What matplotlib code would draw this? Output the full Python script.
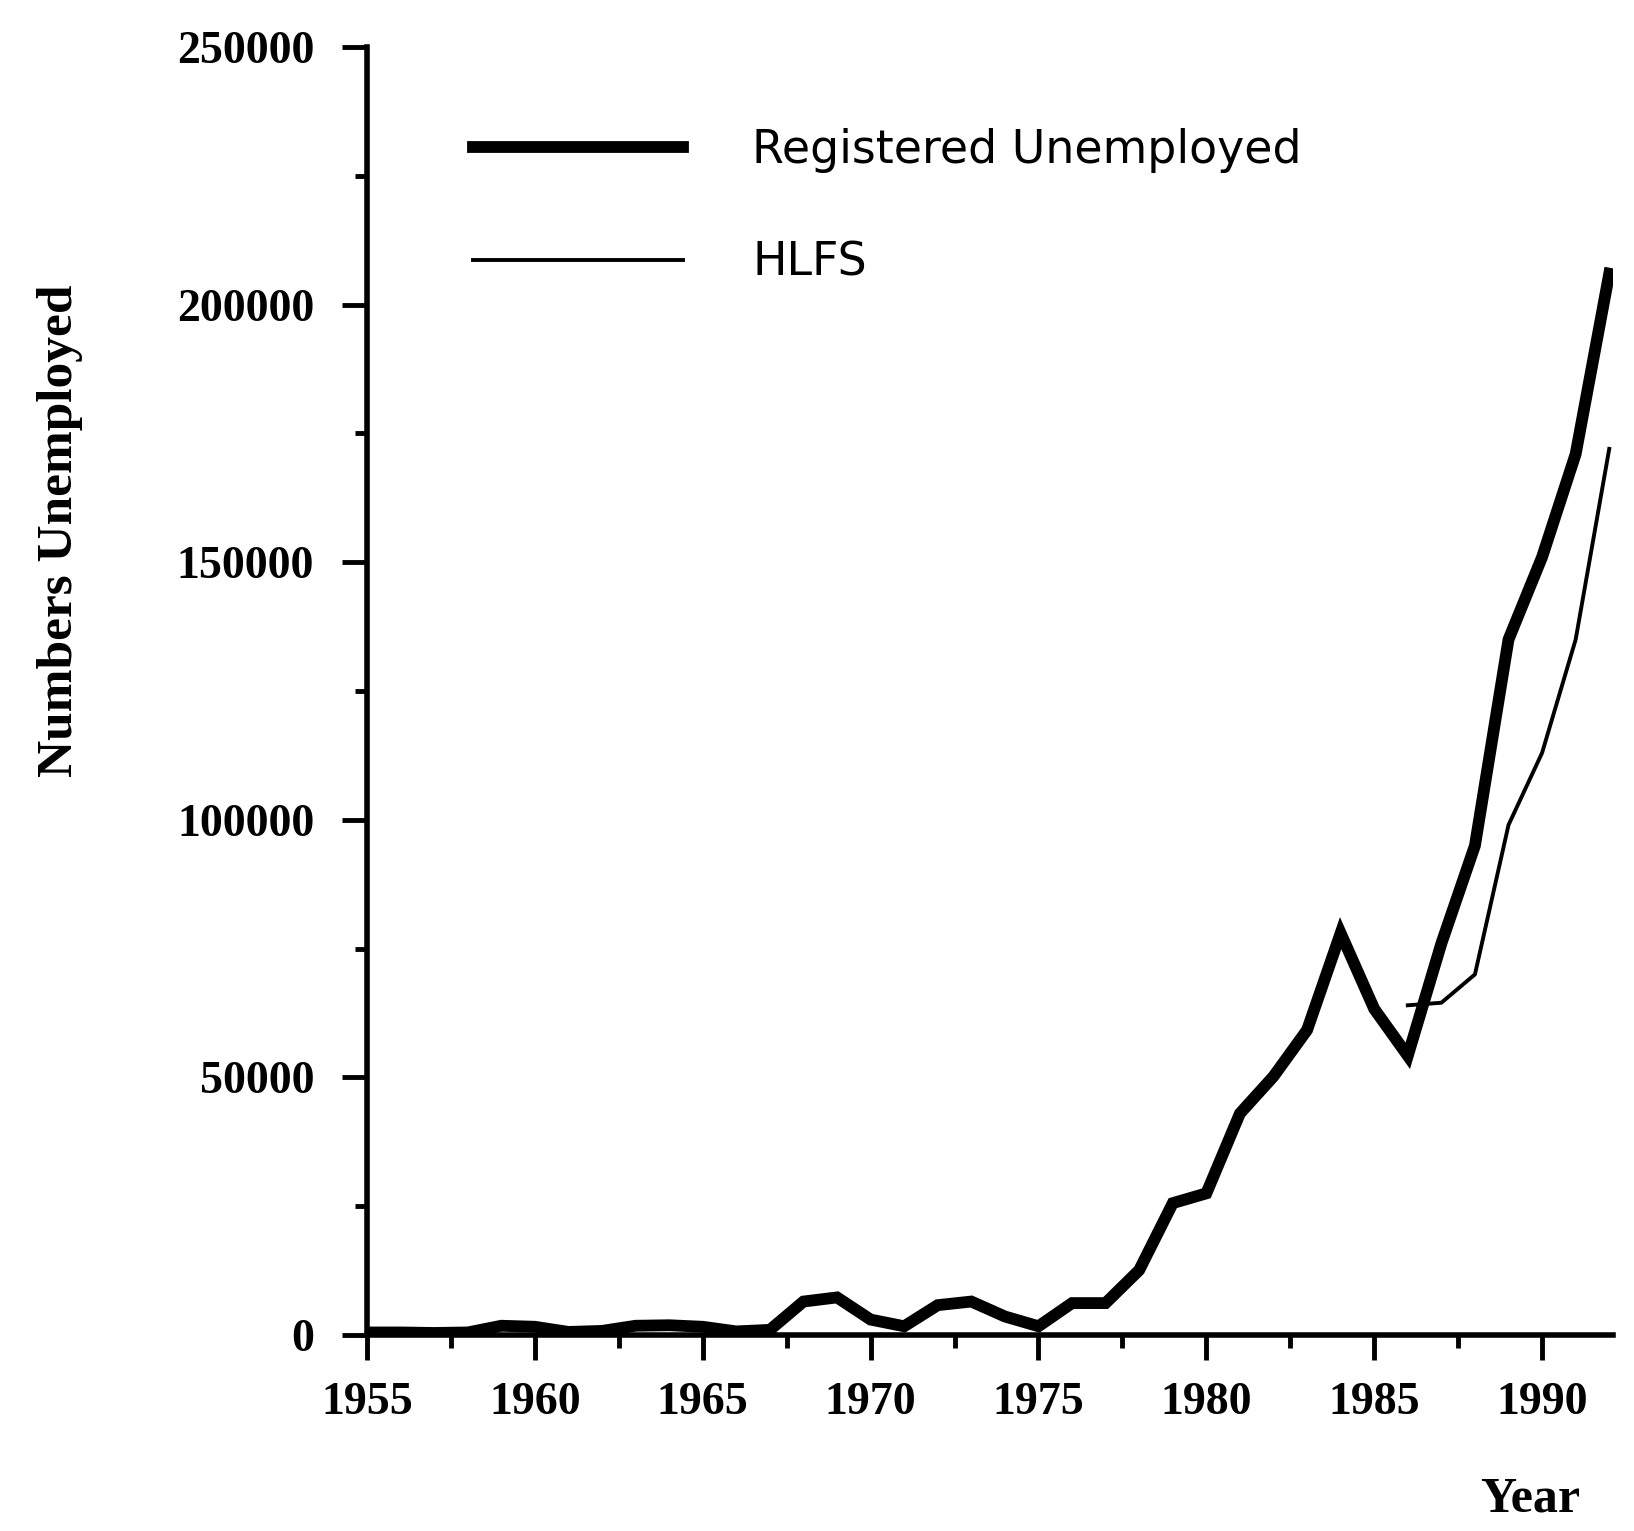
import matplotlib
matplotlib.use("Agg")
import matplotlib.pyplot as plt
from matplotlib.ticker import MultipleLocator

# registered unemployed, 1955-1992
years = list(range(1955, 1993))
registered = [500, 500, 400, 500, 1800, 1600, 600, 800, 1800, 1900, 1600, 700,
              1000, 6500, 7300, 3000, 1700, 5800, 6500, 3600, 1700, 6200,
              6200, 12600, 25600, 27500, 43000, 50200, 59200, 78000, 63300,
              54200, 76000, 95000, 135000, 151000, 171000, 206000]

# household labour force survey, 1986-1992
hlfs_years = [1986, 1987, 1988, 1989, 1990, 1991, 1992]
hlfs = [64000, 64500, 70000, 99000, 113000, 135000, 172000]

fig = plt.figure(figsize=(16.34, 15.31), dpi=100)
ax = fig.add_axes([0.2246, 0.128, 0.7623, 0.8413])

ax.plot(years, registered, color='black', lw=8.5, solid_joinstyle='miter',
        label='Registered Unemployed')
ax.plot(hlfs_years, hlfs, color='black', lw=2.8, label='HLFS')

ax.set_xlim(1955, 1992.1)
ax.set_ylim(0, 250000)

for s in ['top', 'right']:
    ax.spines[s].set_visible(False)
for s in ['left', 'bottom']:
    ax.spines[s].set_linewidth(4)

ax.xaxis.set_major_locator(MultipleLocator(5))
ax.xaxis.set_minor_locator(MultipleLocator(2.5))
ax.yaxis.set_major_locator(MultipleLocator(50000))
ax.yaxis.set_minor_locator(MultipleLocator(25000))
ax.tick_params(which='major', length=18, width=3.5, pad=16)
ax.tick_params(axis='y', which='major', pad=20)
ax.tick_params(which='minor', length=9, width=3.5)

serif = {'family': 'Liberation Serif', 'weight': 'bold', 'size': 33}
for lab in ax.get_xticklabels() + ax.get_yticklabels():
    lab.set_fontproperties(matplotlib.font_manager.FontProperties(**serif))

leg = ax.legend(loc='upper left', bbox_to_anchor=(0.052, 0.969), frameon=False,
                prop={'family': 'DejaVu Sans', 'size': 33},
                handlelength=4.58, handletextpad=1.51, labelspacing=1.47)

fig.text(0.037, 1 - 531 / 1531, 'Numbers Unemployed', rotation=90,
         ha='center', va='center', fontfamily='Liberation Serif',
         fontweight='bold', fontsize=37)
fig.text(1530 / 1634, 1 - 1500 / 1531, 'Year', ha='center', va='center',
         fontfamily='Liberation Serif', fontweight='bold', fontsize=36)

fig.savefig('out.png', dpi=100)
